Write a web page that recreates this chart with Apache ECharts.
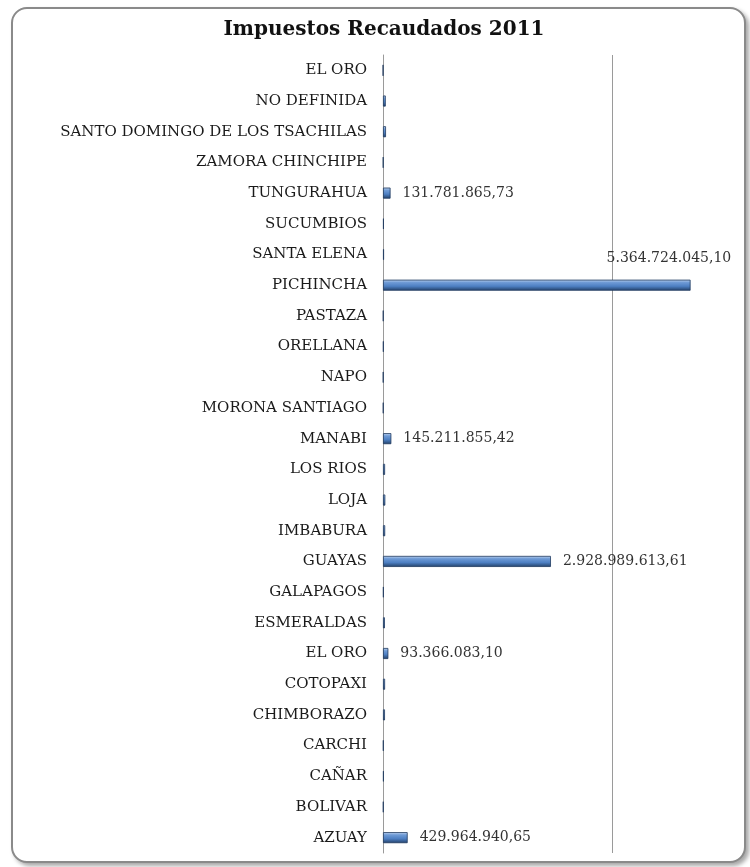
<!DOCTYPE html>
<html>
<head>
<meta charset="utf-8">
<script src="https://cdn.jsdelivr.net/npm/echarts@6/dist/echarts.min.js"></script>
<style>
  html, body { margin: 0; padding: 0; background: #ffffff; }
  #frame {
    position: absolute; left: 11px; top: 7px; width: 731px; height: 852px;
    border: 2px solid #8a8a8a; border-radius: 16px; background: #fff;
    box-shadow: 3px 3px 4px rgba(0,0,0,0.35);
  }
  #chart { position: absolute; left: 0; top: 0; width: 750px; height: 867px; }
</style>
</head>
<body>
<div id="frame"></div>
<div id="chart"></div>
<script>
const titleText = 'Impuestos Recaudados 2011';
const provinces = ['AZUAY','BOLIVAR','CAÑAR','CARCHI','CHIMBORAZO','COTOPAXI','EL ORO','ESMERALDAS','GALAPAGOS','GUAYAS','IMBABURA','LOJA','LOS RIOS','MANABI','MORONA SANTIAGO','NAPO','ORELLANA','PASTAZA','PICHINCHA','SANTA ELENA','SUCUMBIOS','TUNGURAHUA','ZAMORA CHINCHIPE','SANTO DOMINGO DE LOS TSACHILAS','NO DEFINIDA','EL ORO'];
const amounts = [429964940.65, 9000000, 14000000, 10000000, 34000000, 36000000, 93366083.10, 33000000, 12000000, 2928989613.61, 38000000, 40000000, 36000000, 145211855.42, 8000000, 7000000, 11000000, 8000000, 5364724045.10, 18000000, 15000000, 131781865.73, 6000000, 52000000, 48000000, 2000000];
const labeledMin = 90000000;
const axisMax = 6000000000;
const axisStep = 4000000000;

function fmtEs(v) {
  const parts = v.toFixed(2).split('.');
  return parts[0].replace(/\B(?=(\d{3})+(?!\d))/g, '.') + ',' + parts[1];
}

const barColor = new echarts.graphic.LinearGradient(0, 0, 0, 1, [
  { offset: 0, color: '#c3d7f0' },
  { offset: 0.25, color: '#6f9bd6' },
  { offset: 0.6, color: '#4d7fc2' },
  { offset: 1, color: '#223f66' }
]);

const seriesData = amounts.map(function (v, i) {
  const item = { value: v };
  if (provinces[i] === 'PICHINCHA') {
    item.label = { show: true, position: 'right', offset: [-96, -27] };
  }
  return item;
});

const chart = echarts.init(document.getElementById('chart'), null, { renderer: 'canvas' });
chart.setOption({
  animation: false,
  title: {
    text: titleText, left: 379, top: 15, textAlign: 'center',
    textStyle: { fontFamily: 'DejaVu Serif', fontSize: 20, fontWeight: 'bold', color: '#111' }
  },
  grid: { left: 383, right: 23, top: 55, bottom: 14, containLabel: false },
  xAxis: {
    type: 'value', min: 0, max: axisMax, interval: axisStep,
    axisLabel: { show: false }, axisTick: { show: false }, axisLine: { show: false },
    splitLine: { show: true, showMinLine: false, showMaxLine: false, lineStyle: { color: '#9a9a9a', width: 1 } }
  },
  yAxis: {
    type: 'category', data: provinces,
    axisTick: { show: false },
    axisLine: { show: true, lineStyle: { color: '#9a9a9a', width: 1 } },
    axisLabel: { margin: 16, fontFamily: 'DejaVu Serif', fontSize: 15, color: '#1a1a1a' }
  },
  series: [{
    type: 'bar', data: seriesData, barWidth: '36%',
    itemStyle: { color: barColor, borderColor: '#1f3a60', borderWidth: 0.8 },
    label: {
      show: true, position: 'right', distance: 12,
      fontFamily: 'DejaVu Serif', fontSize: 14, color: '#333',
      formatter: function (p) { return p.value >= labeledMin ? fmtEs(p.value) : ''; }
    }
  }]
});
</script>
</body>
</html>
